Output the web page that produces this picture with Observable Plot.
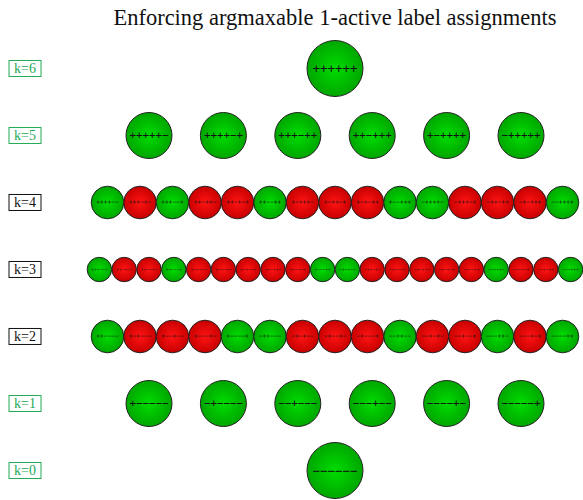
<!DOCTYPE html>
<html>
<head>
<meta charset="utf-8">
<script src="https://cdn.jsdelivr.net/npm/d3@7"></script>
<script src="https://cdn.jsdelivr.net/npm/@observablehq/plot@0.6"></script>
<style>
  body { margin: 0; background: #fff; }
  #title { width: 583px; height: 36px; box-sizing: border-box; padding-left: 87px; text-align: center;
           font-family: "Liberation Serif", serif; font-size: 22.5px; line-height: 36px; color: #111; overflow: hidden; }
  #chart svg { display: block; }
</style>
</head>
<body>
<div id="title">Enforcing argmaxable 1-active label assignments</div>
<div id="chart"></div>
<script>
const rows = ["k=6", "k=5", "k=4", "k=3", "k=2", "k=1", "k=0"];

const k6Labels = ["++++++"];
const k6Argmax = [1];

const k5Labels = ["+++++−", "++++−+", "+++−++", "++−+++", "+−++++", "−+++++"];
const k5Argmax = [1, 1, 1, 1, 1, 1];

const k4Labels = ["++++−−", "+++−+−", "+++−−+", "++−++−", "++−+−+", "++−−++", "+−+++−", "+−++−+",
                  "+−+−++", "+−−+++", "−++++−", "−+++−+", "−++−++", "−+−+++", "−−++++"];
const k4Argmax = [1, 0, 1, 0, 0, 1, 0, 0, 0, 1, 1, 0, 0, 0, 1];

const k3Labels = ["+++−−−", "++−+−−", "++−−+−", "++−−−+", "+−++−−", "+−+−+−", "+−+−−+", "+−−++−",
                  "+−−+−+", "+−−−++", "−+++−−", "−++−+−", "−++−−+", "−+−++−", "−+−+−+", "−+−−++",
                  "−−+++−", "−−++−+", "−−+−++", "−−−+++"];
const k3Argmax = [1, 0, 0, 1, 0, 0, 0, 0, 0, 1, 1, 0, 0, 0, 0, 0, 1, 0, 0, 1];

const k2Labels = ["++−−−−", "+−+−−−", "+−−+−−", "+−−−+−", "+−−−−+", "−++−−−", "−+−+−−", "−+−−+−",
                  "−+−−−+", "−−++−−", "−−+−+−", "−−+−−+", "−−−++−", "−−−+−+", "−−−−++"];
const k2Argmax = [1, 0, 0, 0, 1, 1, 0, 0, 0, 1, 0, 0, 1, 0, 1];

const k1Labels = ["+−−−−−", "−+−−−−", "−−+−−−", "−−−+−−", "−−−−+−", "−−−−−+"];
const k1Argmax = [1, 1, 1, 1, 1, 1];

const k0Labels = ["−−−−−−"];
const k0Argmax = [1];

// layout (pixels) per row
const rowLabels = [k6Labels, k5Labels, k4Labels, k3Labels, k2Labels, k1Labels, k0Labels];
const rowArgmax = [k6Argmax, k5Argmax, k4Argmax, k3Argmax, k2Argmax, k1Argmax, k0Argmax];
const rowRadius = [28, 23, 16.3, 12.2, 16.3, 23, 28];
const rowStep   = [0, 74.4, 32.5, 24.8, 32.5, 74.4, 0];
const rowFont   = [12.5, 10.8, 6.2, 4.5, 6.2, 10.8, 12.5];
const centerX = 334.5;

const circles = [];
rows.forEach((row, r) => {
  const labs = rowLabels[r], n = labs.length;
  labs.forEach((s, i) => {
    circles.push({
      row, label: s, ok: rowArgmax[r][i] === 1,
      x: centerX + (i - (n - 1) / 2) * rowStep[r],
      r: rowRadius[r], fs: rowFont[r]
    });
  });
});
const rowInfo = rows.map((row, r) => ({row, allOk: rowArgmax[r].every(v => v === 1)}));

const green = "#22aa55";

const svg = Plot.plot({
  width: 583,
  height: 464,
  margin: 0,
  x: {domain: [0, 583], range: [0, 583], axis: null},
  y: {type: "point", domain: rows, range: [31, 435], padding: 0, axis: null},
  r: {type: "identity"},
  marks: [
    Plot.dot(circles, {x: "x", y: "row", r: "r", fill: d => d.ok ? "url(#gGreen)" : "url(#gRed)",
                       stroke: "#222", strokeWidth: 1}),
    Plot.text(circles, {x: "x", y: "row", text: "label", fontSize: "fs", fill: "#111",
                        fontFamily: "DejaVu Sans Mono, monospace"}),
    Plot.text(rowInfo, {x: () => 24.5, y: "row", text: "row", fontSize: 14,
                        fontFamily: "Liberation Serif, serif",
                        fill: d => d.allOk ? green : "#111", className: "rowlab"})
  ]
});
document.getElementById("chart").appendChild(svg);

const defs = d3.select(svg).insert("defs", ":first-child");
function grad(id, c0, c1) {
  const g = defs.append("radialGradient").attr("id", id).attr("cx", "50%").attr("cy", "50%").attr("r", "50%");
  g.append("stop").attr("offset", "0%").attr("stop-color", c0);
  g.append("stop").attr("offset", "100%").attr("stop-color", c1);
}
grad("gGreen", "#00dd00", "#00a600");
grad("gRed", "#ff1414", "#c80000");

// boxes around row labels
d3.select(svg).selectAll(".rowlab text").each(function(d, i) {
  const bb = this.getBBox();
  const cx = bb.x + bb.width / 2, cy = bb.y + bb.height / 2;
  const col = rowInfo[i].allOk ? green : "#111";
  d3.select(this.parentNode).insert("rect", () => this)
    .attr("transform", this.getAttribute("transform"))
    .attr("x", cx - 16).attr("y", cy - 8).attr("width", 32).attr("height", 16)
    .attr("fill", "white").attr("stroke", col).attr("stroke-width", 1);
});
</script>
</body>
</html>
